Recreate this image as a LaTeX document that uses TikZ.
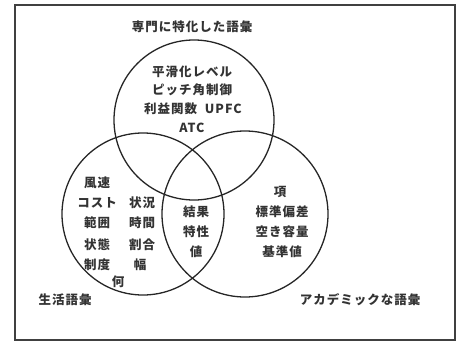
\documentclass[tikz,border=0pt]{standalone}
\usepackage{fontspec}
\setmainfont{Noto Sans CJK JP}[LetterSpace=8]
\begin{document}
\begin{tikzpicture}[x=1pt,y=-1pt,
  ring/.style={draw=black!85,line width=1.3pt,circle,inner sep=0pt},
  word/.style={font=\fontsize{12.5}{14}\selectfont\bfseries,inner sep=0pt,text=black!80},
  stack/.style={word,align=center}]
\useasboundingbox (0,0) rectangle (462,342);
\draw[black!75,line width=1.1pt] (15,5) rectangle (455,340);
% circles
\node[ring,minimum size=160pt] (top) at (194,120) {};
\node[ring,minimum size=162pt] (left) at (143,214) {};
\node[ring,minimum size=166pt] (right) at (245,214) {};
% titles
\node[word] (ttop) at (192,27) {専門に特化した語彙};
\node[word] (tleft) at (65,300) {生活語彙};
\node[word] (tright) at (360,300) {アカデミックな語彙};
% top circle words
\node[word] (a1) at (192,72) {平滑化レベル};
\node[word] (a2) at (192,90) {ピッチ角制御};
\node[word] (a3) at (193,109) {利益関数\ \ UPFC};
\node[word] (a4) at (192,128) {ATC};
% left circle words
\node[word] (b1) at (97,183) {風速};
\node[word] (b2) at (97,203) {コスト};
\node[word] (b3) at (97,223) {範囲};
\node[word] (b4) at (97,245) {状態};
\node[word] (b5) at (97,265) {制度};
\node[word] (b6) at (142,203) {状況};
\node[word] (b7) at (142,223) {時間};
\node[word] (b8) at (142,245) {割合};
\node[word] (b9) at (140,265) {幅};
\node[word] (b10) at (118,282) {何};
% centre lens
\node[word] (c1) at (196,212) {結果};
\node[word] (c2) at (196,232) {特性};
\node[word] (c3) at (196,252) {値};
% right circle words
\node[word] (d1) at (280,192) {項};
\node[word] (d2) at (282,212) {標準偏差};
\node[word] (d3) at (282,232) {空き容量};
\node[word] (d4) at (282,252) {基準値};
\end{tikzpicture}
\end{document}
